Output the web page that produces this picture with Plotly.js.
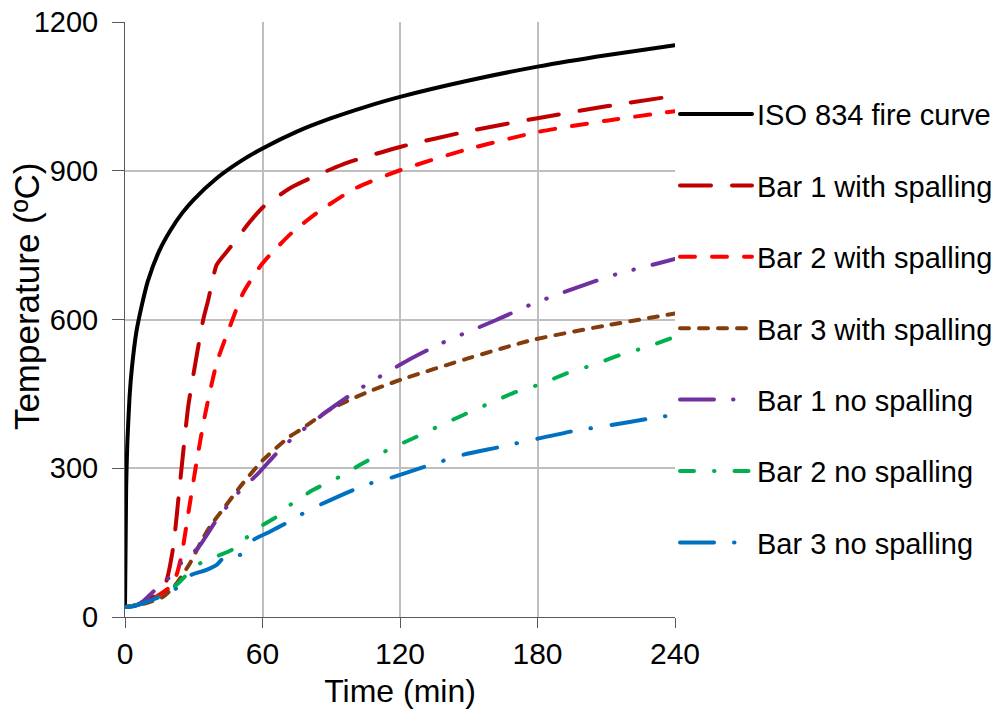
<!DOCTYPE html>
<html><head><meta charset="utf-8">
<script src="https://cdn.plot.ly/plotly-3.0.1.min.js"></script>
<style>body{margin:0;background:#fff}#chart{width:996px;height:719px}
#chart path.js-line{stroke-linecap:round;stroke-linejoin:round}</style>
</head><body><div id="chart"></div>
<script>
// ISO 834 fire curve
const isoT = [0, 0.5, 1, 2, 3, 5, 7.5, 10, 15, 20, 25, 30, 40, 50, 60, 75, 90, 105, 120, 150, 180, 210, 240];
const isoV = [20, 261, 349, 445, 502, 576, 632, 678, 739, 781, 815, 842, 885, 918, 945, 979, 1006, 1029, 1049, 1082, 1110, 1133, 1153];
// Bar 1 with spalling
const b1sT = [0, 5, 10, 15, 18, 21, 24, 27.6, 31.2, 34.1, 36.3, 40, 45, 54.5, 60.3, 73.3, 95.1, 120, 150, 180, 210, 240];
const b1sV = [20, 24, 33, 50, 72, 140, 270, 425, 525, 599, 639, 710, 740, 797, 827, 868, 913, 948, 980, 1006, 1030, 1051];
// Bar 2 with spalling
const b2sT = [0, 5, 10, 15, 20, 22.5, 24.7, 28, 31.5, 34.9, 40, 45.7, 51.5, 58.8, 63.2, 72.6, 83.5, 100.2, 120, 150, 180, 210, 240];
const b2sV = [20, 24, 32, 45, 62, 85, 125, 220, 320, 407, 512, 585, 653, 706, 730, 774, 814, 864, 901, 944, 978, 1001, 1020];
// Bar 3 with spalling
const b3sT = [0, 5, 10, 16.7, 22, 28.3, 33, 37, 41.4, 51.5, 60.3, 71.9, 76.3, 90, 105, 120, 150, 178, 210, 240];
const b3sV = [20, 23, 29, 41, 65, 108, 150, 182, 209, 270, 317, 364, 377, 420, 452, 478, 522, 559, 588, 612];
// Bar 1 no spalling
const b1nT = [0, 5, 8, 12.3, 16, 19.6, 24.7, 28, 32, 40, 45, 50.8, 57.4, 67.5, 74.8, 87.9, 101.7, 123.5, 138, 162, 176.5, 200.5, 215.7, 232.4, 240];
const b1nV = [20, 24, 32, 51, 66, 81, 110, 124, 140, 196, 226, 258, 286, 337, 367, 414, 458, 518, 552, 599, 629, 670, 693, 713, 722];
// Bar 2 no spalling
const b2nT = [0, 5, 10, 15, 22.5, 26.9, 33.4, 41.4, 47.2, 53, 60.3, 66.1, 72.6, 82, 93.7, 103.8, 114.7, 125.6, 136.5, 147.4, 159, 170.7, 181.6, 192.4, 204, 215.7, 227.3, 240];
const b2nV = [20, 24, 30, 42, 65, 85, 110, 125, 137, 160, 186, 202, 228, 256, 283, 310, 337, 360, 384, 407, 431, 454, 470, 491, 508, 528, 544, 565];
// Bar 3 no spalling
const b3nT = [0, 4, 8, 15.3, 22.5, 29, 35.6, 40, 43.6, 50.1, 55.9, 63.2, 69, 77, 85, 99.5, 107.5, 115.5, 130.7, 147.4, 162.7, 179.4, 194.6, 212, 227.3, 240];
const b3nV = [20, 22, 28, 41, 58, 85, 95, 105, 122, 125, 155, 172, 186, 207, 226, 256, 270, 280, 303, 327, 342, 359, 374, 387, 399, 408];

const names = ["ISO 834 fire curve", "Bar 1 with spalling", "Bar 2 with spalling", "Bar 3 with spalling", "Bar 1 no spalling", "Bar 2 no spalling", "Bar 3 no spalling"];
const xTicks = [0, 60, 120, 180, 240];
const yTicks = [0, 300, 600, 900, 1200];
const xTitle = "Time (min)";
const yTitle = "Temperature (ºC)";

const xs = [isoT, b1sT, b2sT, b3sT, b1nT, b2nT, b3nT];
const ys = [isoV, b1sV, b2sV, b3sV, b1nV, b2nV, b3nV];
const colors = ["#000000", "#C00000", "#FF0000", "#843C0C", "#7030A0", "#00B050", "#0070C0"];
const dashes = ["solid", "31px,21px", "15px,17px", "9px,10px", "34px,19px,0.5px,19px,0.5px,19px", "14px,20px,0.5px,20px", "34px,20px,0.5px,21px"];

const traces = names.map((n, i) => ({
  x: xs[i], y: ys[i], name: n, type: "scatter", mode: "lines",
  line: {color: colors[i], width: 4, dash: dashes[i], shape: "spline", smoothing: 0.6},
  legendgroup: "g" + i
}));

const font = "Liberation Sans, Arial, sans-serif";
const axisCol = "#595959";
const layout = {
  width: 996, height: 719,
  margin: {l: 125, r: 321, t: 22, b: 102, autoexpand: false},
  paper_bgcolor: "#fff", plot_bgcolor: "#fff",
  font: {family: font, size: 29, color: "#000"},
  showlegend: true,
  legend: {x: 1.0, xanchor: "left", y: 0.888, yanchor: "top", font: {family: font, size: 29, color: "#000"},
           itemwidth: 72, tracegroupgap: 30.7, bgcolor: "rgba(0,0,0,0)"},
  xaxis: {range: [0, 240], tickvals: xTicks, ticks: "outside", ticklen: 10, tickcolor: axisCol,
          showline: true, linecolor: axisCol, linewidth: 1, showgrid: true, gridcolor: "#BFBFBF", gridwidth: 1.5,
          zeroline: false, tickfont: {size: 30}, ticklabelstandoff: 0,
          title: {text: xTitle, font: {size: 32}, standoff: 10}},
  yaxis: {range: [0, 1200], tickvals: yTicks, ticks: "outside", ticklen: 12, tickcolor: axisCol,
          showline: true, linecolor: axisCol, linewidth: 1, showgrid: true, gridcolor: "#BFBFBF", gridwidth: 1.5,
          zeroline: false, tickfont: {size: 29}, ticklabelstandoff: 8},
  annotations: [{text: yTitle, textangle: -90, xref: "paper", yref: "paper", x: -0.178, y: 0.5395,
                 xanchor: "center", yanchor: "middle", showarrow: false, font: {family: font, size: 35, color: "#000"}}]
};
Plotly.newPlot("chart", traces, layout, {displayModeBar: false});
</script></body></html>
